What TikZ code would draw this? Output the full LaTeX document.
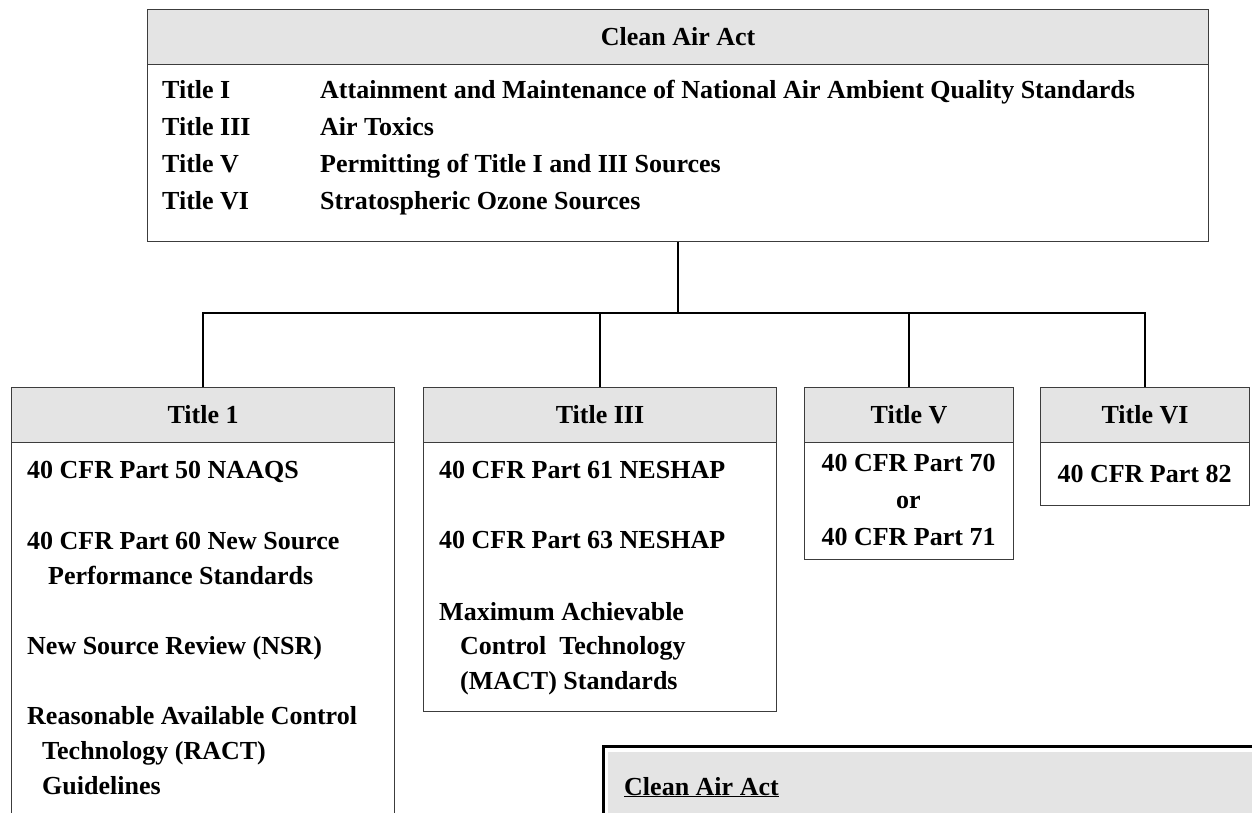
\documentclass[tikz,border=0pt]{standalone}
\usepackage{fontspec}
\setmainfont{Liberation Serif}
\definecolor{hdrgray}{HTML}{E4E4E4}
\definecolor{edge}{HTML}{3C3C3C}
\tikzset{
  x=1pt, y=-1pt,
  frame/.style={draw=edge, line width=1.1pt, inner sep=0pt, anchor=north west},
  hdr/.style={draw=edge, fill=hdrgray, line width=1.1pt, inner sep=0pt, anchor=north west,
    font=\fontsize{26}{30}\selectfont\bfseries},
  txt/.style={inner sep=0pt, anchor=base west, font=\fontsize{26}{30}\selectfont\bfseries},
  ctxt/.style={inner sep=0pt, anchor=base, font=\fontsize{26}{30}\selectfont\bfseries},
  link/.style={draw=black, line width=1.2pt},
}
\begin{document}
\begin{tikzpicture}
\useasboundingbox (0,0) rectangle (1252,813);
\clip (0,0) rectangle (1252,813);
\fill[white] (0,0) rectangle (1252,813);

% top box
\node[hdr, minimum width=1061pt, minimum height=55pt] (caah) at (147,9) {Clean Air Act};
\node[frame, minimum width=1061pt, minimum height=232pt] (caa) at (147,9) {};
\node[txt] (r1a) at (162,99) {Title I};
\node[txt] (r1b) at (320,99) {Attainment and Maintenance of National Air Ambient Quality Standards};
\node[txt] (r2a) at (162,136) {Title III};
\node[txt] (r2b) at (320,136) {Air Toxics};
\node[txt] (r3a) at (162,173) {Title V};
\node[txt] (r3b) at (320,173) {Permitting of Title I and III Sources};
\node[txt] (r4a) at (162,210) {Title VI};
\node[txt] (r4b) at (320,210) {Stratospheric Ozone Sources};

% Title 1
\node[hdr, minimum width=383pt, minimum height=55pt] (t1h) at (11,387) {Title 1};
\node[frame, minimum width=383pt, minimum height=500pt] (t1) at (11,387) {};
\node[txt] (t1a) at (27,478) {40 CFR Part 50 NAAQS};
\node[txt] (t1b) at (27,549) {40 CFR Part 60 New Source};
\node[txt] (t1c) at (48,584) {Performance Standards};
\node[txt] (t1d) at (27,654) {New Source Review (NSR)};
\node[txt] (t1e) at (27,724) {Reasonable Available Control};
\node[txt] (t1f) at (42,759) {Technology (RACT)};
\node[txt] (t1g) at (42,794) {Guidelines};

% Title III
\node[hdr, minimum width=353pt, minimum height=55pt] (t3h) at (423,387) {Title III};
\node[frame, minimum width=353pt, minimum height=324pt] (t3) at (423,387) {};
\node[txt] (t3a) at (439,478) {40 CFR Part 61 NESHAP};
\node[txt] (t3b) at (439,548) {40 CFR Part 63 NESHAP};
\node[txt] (t3c) at (439,620) {Maximum Achievable};
\node[txt] (t3d) at (460,654) {Control\ \ Technology};
\node[txt] (t3e) at (460,689) {(MACT) Standards};

% Title V
\node[hdr, minimum width=209pt, minimum height=55pt] (t5h) at (804,387) {Title V};
\node[frame, minimum width=209pt, minimum height=172pt] (t5) at (804,387) {};
\node[ctxt] (t5a) at (908.5,471) {40 CFR Part 70};
\node[ctxt] (t5b) at (908.5,508) {or};
\node[ctxt] (t5c) at (908.5,545) {40 CFR Part 71};

% Title VI
\node[hdr, minimum width=209pt, minimum height=55pt] (t6h) at (1040,387) {Title VI};
\node[frame, minimum width=209pt, minimum height=118pt] (t6) at (1040,387) {};
\node[ctxt] (t6a) at (1144.5,482) {40 CFR Part 82};

% connectors
\coordinate (j) at (677.5,313);
\draw[link] (caa.south) -- (caa.south |- j);
\draw[link] (t1.north) -- (t1.north |- j) -- (t6.north |- j) -- (t6.north);
\draw[link] (t3.north) -- (t3.north |- j);
\draw[link] (t5.north) -- (t5.north |- j);

% bottom-right note box
\node[draw=black, line width=3pt, anchor=north west, minimum width=700pt, minimum height=200pt, inner sep=0pt] (note) at (601.5,744.5) {};
\fill[hdrgray] (608,752) rectangle (1300,900);
\node[txt] (notet) at (624,795) {\underline{Clean Air Act}};
\end{tikzpicture}
\end{document}
